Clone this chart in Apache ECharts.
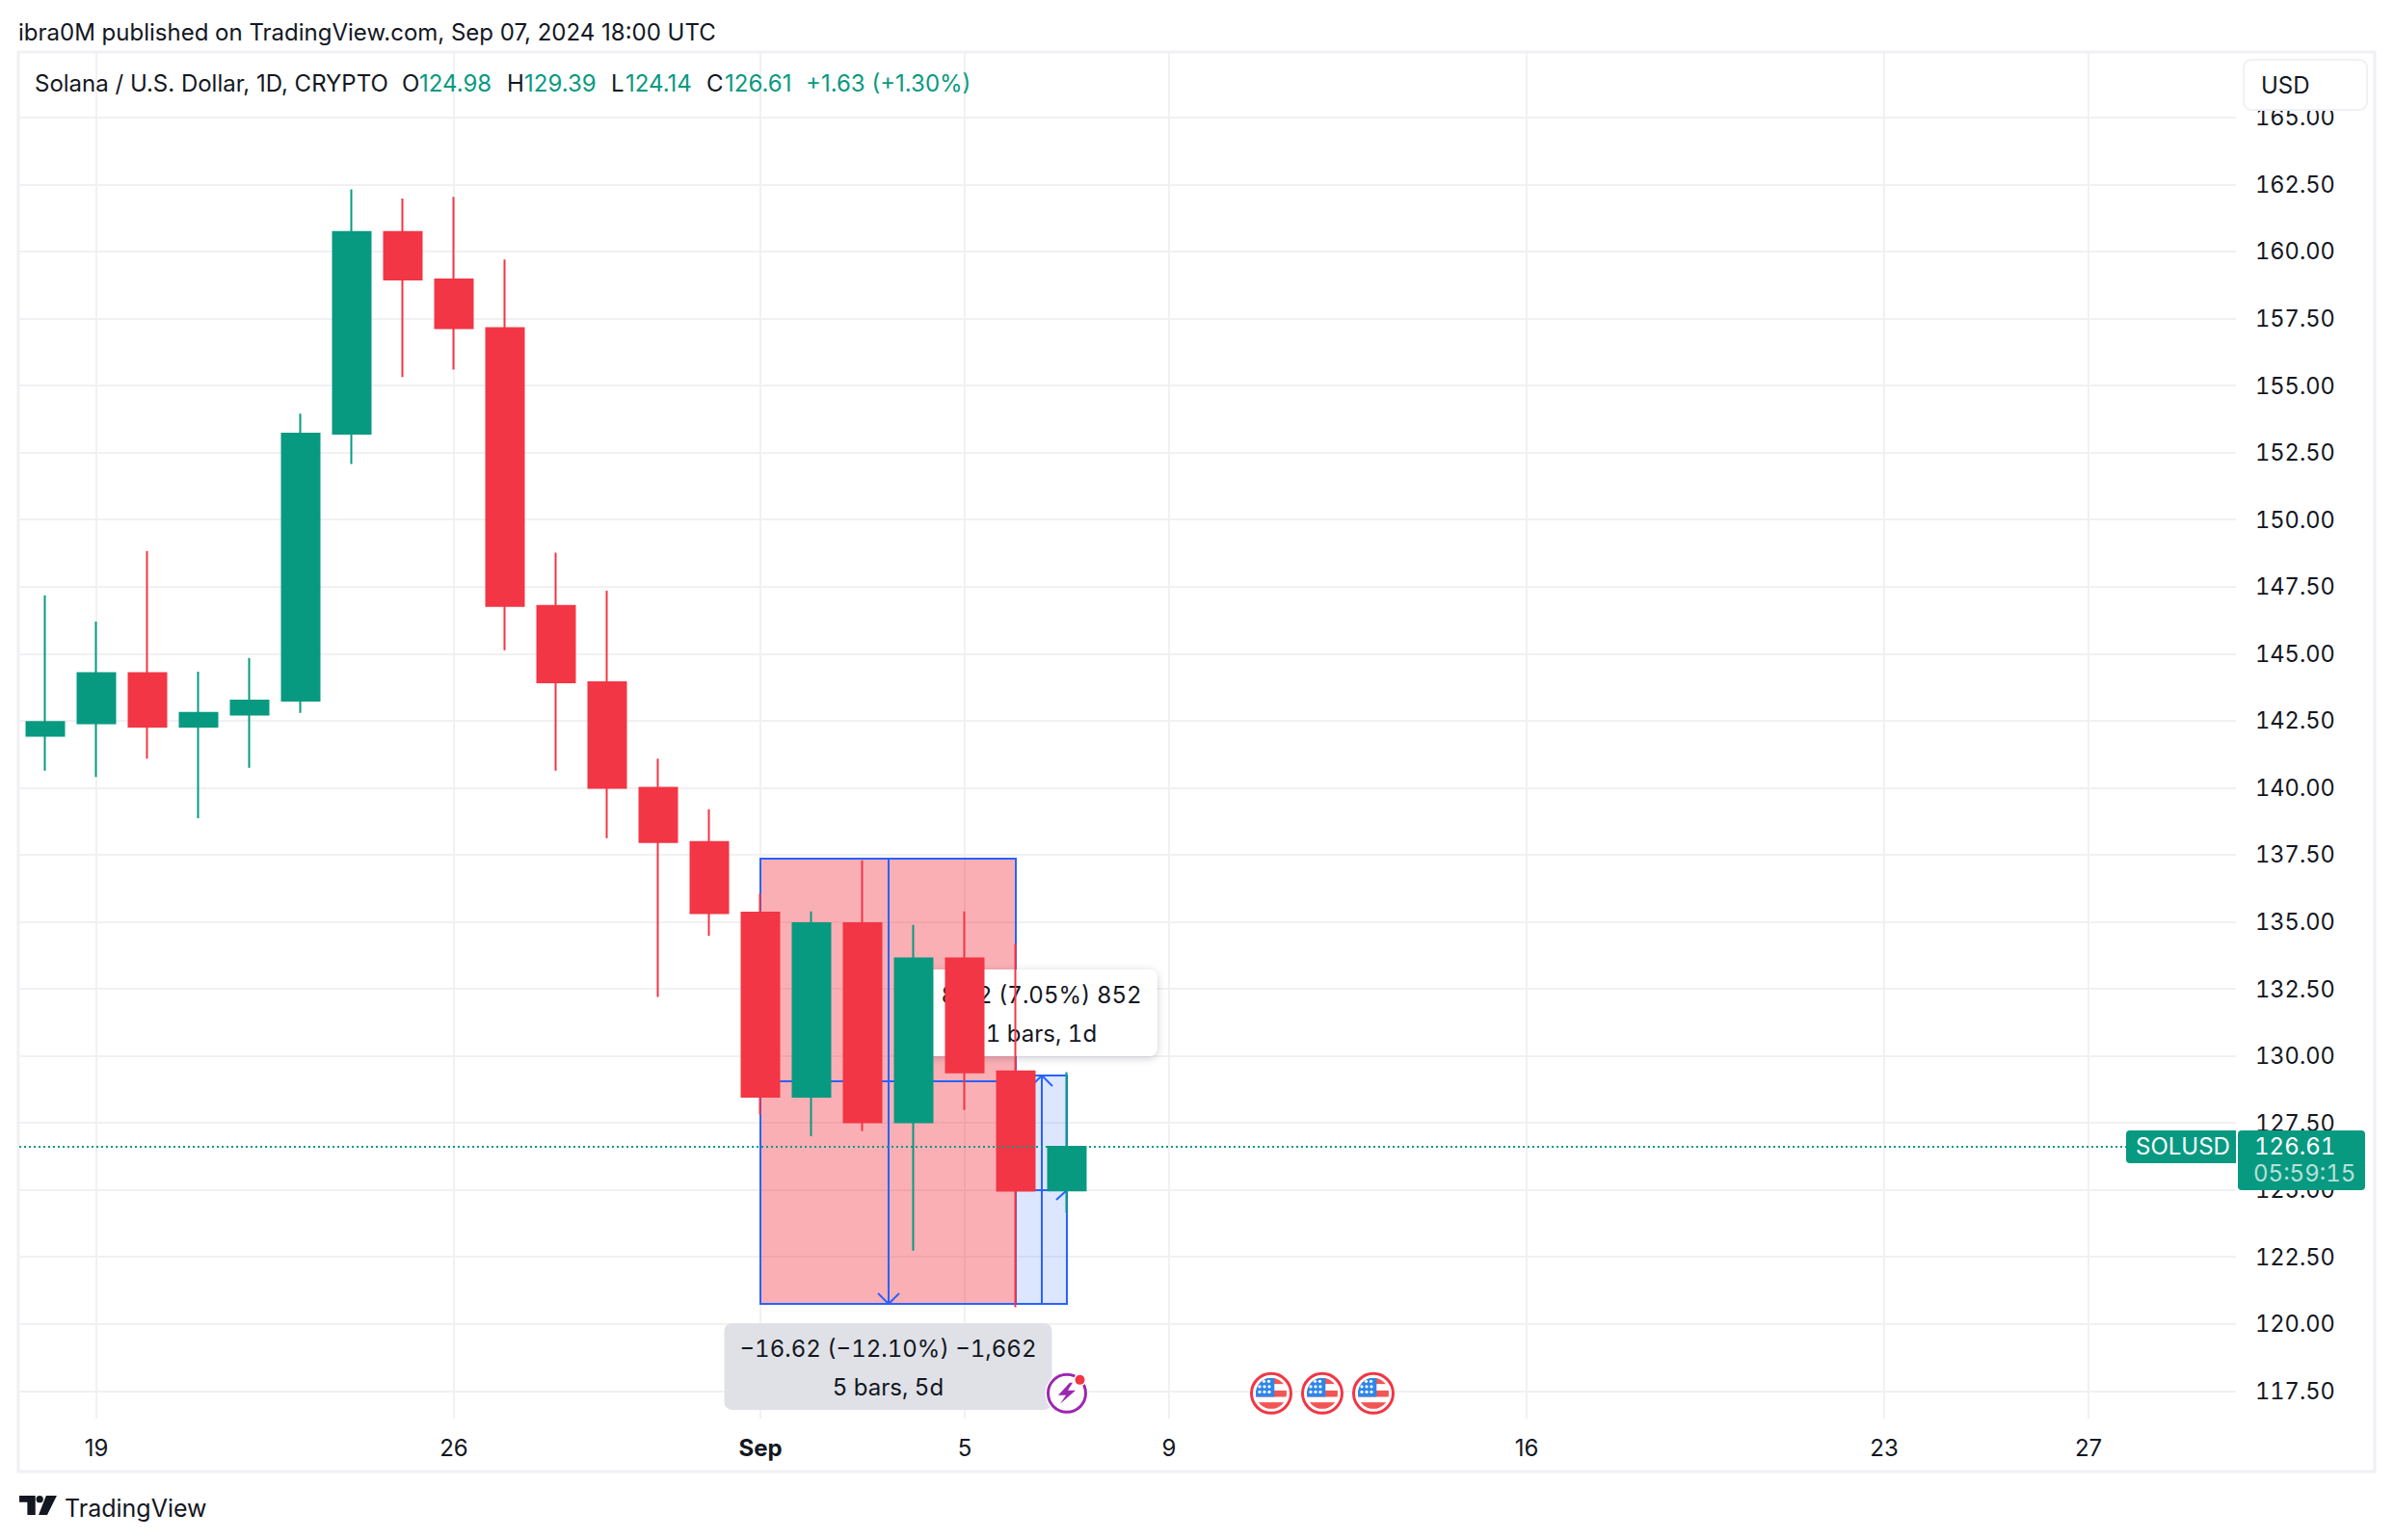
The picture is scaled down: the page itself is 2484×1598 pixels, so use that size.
<!DOCTYPE html>
<html>
<head>
<meta charset="utf-8">
<style>
html,body{margin:0;background:#fff}
#chart{width:2484px;height:1598px}
/* chart numbers are tabular on the original, header and legend are not */
#chart text[style*="sans-serif"]{font-variant-numeric:tabular-nums}
</style>
<script src="https://cdn.jsdelivr.net/npm/echarts@6/dist/echarts.min.js"></script>
</head>
<body>
<div id="chart"></div>
<script>
// SOL/USD daily candles, 18 Aug - 7 Sep 2024. day = days since 18 Aug
const days   = [0, 1, 2, 3, 4, 5, 6, 7, 8, 9, 10, 11, 12, 13, 14, 15, 16, 17, 18, 19, 20];
const opens  = [141.94, 142.40, 144.27, 142.28, 142.73, 143.25, 153.21, 160.73, 158.96, 157.14, 146.78, 143.93, 140.00, 137.97, 135.34, 128.48, 134.95, 127.52, 133.63, 129.42, 124.98];
const closes = [142.45, 144.27, 142.28, 142.79, 143.25, 153.21, 160.73, 158.96, 157.14, 146.78, 143.93, 140.00, 137.97, 135.32, 128.48, 134.95, 127.52, 133.63, 129.38, 124.97, 126.61];
const lows   = [140.63, 140.40, 141.08, 138.86, 140.74, 142.79, 152.07, 155.32, 155.60, 145.13, 140.63, 138.12, 132.20, 134.48, 127.81, 127.00, 127.19, 122.73, 127.98, 120.62, 124.14];
const highs  = [147.18, 146.20, 148.83, 144.33, 144.84, 153.95, 162.32, 161.98, 162.04, 159.70, 148.77, 147.35, 141.08, 139.20, 136.05, 135.39, 137.29, 134.88, 135.39, 134.18, 129.39];

const priceTicks = [117.5, 120, 122.5, 125, 127.5, 130, 132.5, 135, 137.5, 140, 142.5, 145, 147.5, 150, 152.5, 155, 157.5, 160, 162.5, 165];
const dayTicks   = [1, 8, 14, 18, 22, 29, 36, 40];
const dayLabels  = ["19", "26", "Sep", "5", "9", "16", "23", "27"];

const lastPrice = 126.61;
const countdown = "05:59:15";
const symbol = "SOLUSD";

// measure tools: [fromDay, toDay, fromPrice, toPrice]
const measureDown = [14, 19, 137.37, 120.75];
const measureUp   = [19, 20, 120.75, 129.27];
const measureDownText = ["\u221216.62 (\u221212.10%) \u22121,662", "5 bars, 5d"];
const measureUpText   = ["8.52 (7.05%) 852", "1 bars, 1d"];

const flagDays = [24, 25, 26];
const boltDays = [20];
const iconPrice = 117.41;

const GREEN = "#089981", RED = "#F23645", BLUE = "#2962FF", INK = "#131722", GRID = "#F1F1F3", FRAME = "#F0F0F5";
const FONT = "Inter, sans-serif";

const svgUri = (s) => "data:image/svg+xml;charset=utf-8," + encodeURIComponent(s);
let stars = "";
[[-7.5,-12.5],[-2.5,-12.5],[-12,-7],[-7,-7],[-2,-7],[-12,-1.5],[-7,-1.5],[-2,-1.5]].forEach((p) => {
  stars += `<circle cx="${p[0]}" cy="${p[1]}" r="1.6" fill="#fff"/>`;
});
const flagIcon = svgUri(`<svg xmlns="http://www.w3.org/2000/svg" width="46" height="46" viewBox="-23 -23 46 46">
<defs><clipPath id="c"><circle r="16"/></clipPath></defs>
<circle r="20.5" fill="#fff" stroke="${RED}" stroke-width="3"/>
<g clip-path="url(#c)"><rect x="-16" y="-16" width="32" height="32" fill="#fff"/>
<rect x="-16" y="-16" width="32" height="6.3" fill="#F15554"/><rect x="-16" y="-3" width="32" height="6.6" fill="#F15554"/><rect x="-16" y="9.3" width="32" height="7" fill="#F15554"/>
<rect x="-16" y="-16" width="19.3" height="19.6" fill="#2E86E8"/>${stars}</g></svg>`);
const boltIcon = svgUri(`<svg xmlns="http://www.w3.org/2000/svg" width="50" height="50" viewBox="-25 -25 50 50">
<circle r="22.5" fill="#fff"/><circle r="19.5" fill="#fff" stroke="#9C27B0" stroke-width="3"/>
<path d="M3 -11 L-9 2 L-1 2 L-7 11 L9 -3 L1 -3 L6 -11 Z" fill="#9C27B0"/>
<circle cx="13.5" cy="-14" r="6.5" fill="#fff"/><circle cx="13.5" cy="-14" r="5" fill="${RED}"/></svg>`);
const tvLogo = svgUri(`<svg xmlns="http://www.w3.org/2000/svg" width="39" height="20" viewBox="0 0 35 18">
<path d="M15 0H0V6H7.5V18H15Z M26 18H18L25 0H35Z" fill="${INK}"/><circle cx="19" cy="3.3" r="3.3" fill="${INK}"/></svg>`);

const candles = days.map((d, i) => [d, opens[i], closes[i], lows[i], highs[i]]);

function line(a, b, stroke) {
  return { type: "line", shape: { x1: a[0], y1: a[1], x2: b[0], y2: b[1] }, style: { stroke: stroke || BLUE, lineWidth: 2, fill: null } };
}

function measureShapes(api, m, fill) {
  const tl = api.coord([m[0], Math.max(m[2], m[3])]).map(Math.round);
  const br = api.coord([m[1], Math.min(m[2], m[3])]).map(Math.round);
  const midX = Math.round((tl[0] + br[0]) / 2), midY = Math.round((tl[1] + br[1]) / 2);
  const up = m[3] > m[2];
  const tipY = up ? tl[1] : br[1];
  const back = up ? 11 : -11;
  return [
    { type: "rect", shape: { x: tl[0], y: tl[1], width: br[0] - tl[0], height: br[1] - tl[1] }, style: { fill: fill, stroke: BLUE, lineWidth: 2 } },
    line([tl[0], midY], [br[0], midY]),
    line([midX, tl[1]], [midX, br[1]]),
    line([midX - 11, tipY + back], [midX, tipY]),
    line([midX + 11, tipY + back], [midX, tipY]),
    line([br[0] - 11, midY - 10], [br[0], midY]),
    line([br[0] - 11, midY + 10], [br[0], midY]),
  ];
}

function noteBox(cx, cy, w, h, fill, shadow, lines) {
  const out = [{
    type: "rect",
    shape: { x: cx - w / 2, y: cy - h / 2, width: w, height: h, r: 8 },
    style: { fill: fill, shadowBlur: shadow ? 8 : 0, shadowColor: "rgba(19,23,34,.2)", shadowOffsetY: shadow ? 2 : 0 },
  }];
  lines.forEach((t, i) => out.push({
    type: "text",
    style: { text: t, x: cx, y: cy + 1.5 + (i === 0 ? -20 : 20), textAlign: "center", textVerticalAlign: "middle", fill: INK, fontSize: 24, fontFamily: FONT },
  }));
  return out;
}

function renderTools(params, api) {
  const d = measureShapes(api, measureDown, "rgba(242,54,69,0.4)");
  const u = measureShapes(api, measureUp, "rgba(41,98,255,0.16)");
  const downX = api.coord([(measureDown[0] + measureDown[1]) / 2, measureDown[3]]);
  const upX = api.coord([(measureUp[0] + measureUp[1]) / 2, measureUp[3]]);
  return {
    type: "group",
    children: u.concat(d,
      noteBox(downX[0], downX[1] + 65, 340, 90, "#DFE1E6", false, measureDownText),
      noteBox(upX[0], 1051, 240, 90, "#fff", true, measureUpText)),
  };
}

function renderIcons(params, api) {
  const kids = [];
  flagDays.forEach((d) => {
    const p = api.coord([d, iconPrice]);
    kids.push({ type: "image", style: { image: flagIcon, x: p[0] - 23, y: p[1] - 23, width: 46, height: 46 } });
  });
  boltDays.forEach((d) => {
    const p = api.coord([d, iconPrice]);
    kids.push({ type: "image", style: { image: boltIcon, x: p[0] - 25, y: p[1] - 25, width: 50, height: 50 } });
  });
  return { type: "group", children: kids };
}

function renderPriceTag(params, api) {
  const y = api.coord([0, lastPrice])[1];
  const txt = (t, x, yy, fill) => ({ type: "text", style: { text: t, x: x, y: yy, textAlign: "left", textVerticalAlign: "middle", fill: fill, fontSize: 24, fontFamily: FONT } });
  return {
    type: "group",
    children: [
      { type: "rect", shape: { x: 2206, y: y - 17, width: 114, height: 34, r: [4, 0, 0, 4] }, style: { fill: GREEN } },
      { type: "rect", shape: { x: 2322, y: y - 17, width: 132, height: 62, r: [4, 4, 4, 4] }, style: { fill: GREEN } },
      txt(symbol, 2216, y, "#fff"),
      txt(lastPrice.toFixed(2), 2339, y, "#fff"),
      txt(countdown, 2338, y + 28, "#B5E0D9"),
    ],
  };
}

const legendText = (t, x, fill) => ({ type: "text", silent: true, z: 10, x: x, y: 86, style: { text: t, fill: fill, fontSize: 24, fontFamily: "Inter", verticalAlign: "middle" } });

const option = {
  animation: false,
  backgroundColor: "#fff",
  textStyle: { fontFamily: FONT },
  grid: { left: 20, right: 164, top: 54, height: 1418, containLabel: false },
  xAxis: {
    type: "value",
    min: -0.5094,
    max: 42.887,
    axisLine: { show: false },
    axisTick: { show: false, customValues: dayTicks },
    axisLabel: {
      customValues: dayTicks,
      margin: 18,
      color: INK,
      fontSize: 24,
      fontFamily: FONT,
      formatter: (v) => {
        const t = dayLabels[dayTicks.indexOf(v)];
        return t === "Sep" ? "{b|Sep}" : t;
      },
      rich: { b: { fontWeight: 700, fontSize: 24, color: INK, fontFamily: FONT } },
    },
    splitLine: { show: true, lineStyle: { color: GRID, width: 2 } },
  },
  yAxis: {
    type: "value",
    position: "right",
    min: 116.47,
    max: 167.44,
    scale: true,
    axisLine: { show: false },
    axisTick: { show: false, customValues: priceTicks },
    axisLabel: {
      customValues: priceTicks,
      margin: 20,
      color: INK,
      fontSize: 23.6,
      fontFamily: FONT,
      formatter: (v) => v.toFixed(2),
    },
    splitLine: { show: true, lineStyle: { color: GRID, width: 2 } },
  },
  series: [
    { type: "custom", z: 1, silent: true, data: [[0, 0]], renderItem: renderTools },
    {
      type: "candlestick",
      z: 3,
      silent: true,
      barWidth: 40,
      data: candles,
      encode: { x: 0, y: [1, 2, 3, 4] },
      itemStyle: { color: GREEN, color0: RED, borderColor: GREEN, borderColor0: RED, borderWidth: 2 },
      markLine: {
        silent: true,
        symbol: "none",
        label: { show: false },
        lineStyle: { color: GREEN, width: 2, type: [2, 3] },
        data: [[{ coord: [-0.5094, lastPrice] }, { coord: [41.1, lastPrice] }]],
      },
    },
    { type: "custom", z: 5, silent: true, data: [[0, 0]], renderItem: renderIcons },
    { type: "custom", z: 6, silent: true, data: [[0, 0]], renderItem: renderPriceTag },
  ],
  graphic: [
    { type: "rect", z: 0, silent: true, shape: { x: 19, y: 54, width: 2445, height: 1473 }, style: { fill: null, stroke: FRAME, lineWidth: 3 } },
    { type: "text", silent: true, x: 19, y: 33, style: { text: "ibra0M published on TradingView.com, Sep 07, 2024 18:00 UTC", fill: INK, fontSize: 24, fontFamily: "Inter", verticalAlign: "middle" } },
    legendText("Solana / U.S. Dollar, 1D, CRYPTO", 36, INK),
    legendText("O", 417, INK),
    legendText("124.98", 435, GREEN),
    legendText("H", 526, INK),
    legendText("129.39", 544, GREEN),
    legendText("L", 634, INK),
    legendText("124.14", 649, GREEN),
    legendText("C", 733, INK),
    legendText("126.61", 752, GREEN),
    legendText("+1.63 (+1.30%)", 836, GREEN),
    { type: "rect", z: 20, silent: true, shape: { x: 2328, y: 62, width: 128, height: 52, r: 8 }, style: { fill: "#fff", stroke: FRAME, lineWidth: 2 } },
    { type: "text", z: 21, silent: true, x: 2346, y: 88, style: { text: "USD", fill: INK, fontSize: 24, fontFamily: FONT, verticalAlign: "middle" } },
    { type: "image", silent: true, x: 20, y: 1552, style: { image: tvLogo, width: 39, height: 20 } },
    { type: "text", silent: true, x: 67, y: 1565, style: { text: "TradingView", fill: INK, fontSize: 25, fontFamily: FONT, verticalAlign: "middle" } },
  ],
};

const chart = echarts.init(document.getElementById("chart"), null, { renderer: "svg" });
chart.setOption(option);
</script>
</body>
</html>
